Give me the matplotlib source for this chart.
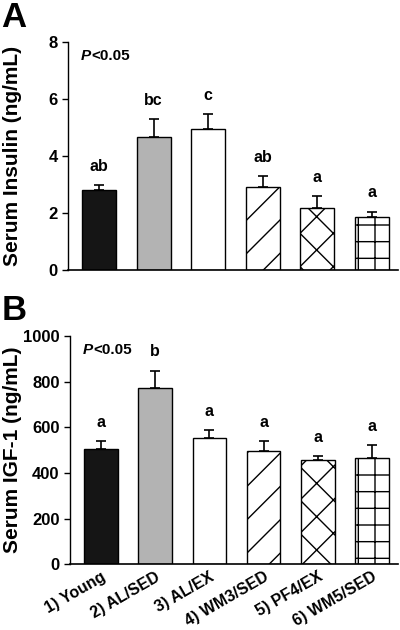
import numpy as np
import matplotlib.pyplot as plt

plt.rcParams['font.family'] = ['Liberation Sans', 'DejaVu Sans']
plt.rcParams['font.weight'] = 'bold'
plt.rcParams['hatch.linewidth'] = 1.0

groups = ['1) Young', '2) AL/SED', '3) AL/EX', '4) WM3/SED', '5) PF4/EX', '6) WM5/SED']
insulin = [2.82, 4.66, 4.96, 2.93, 2.20, 1.88]
insulin_se = [0.17, 0.65, 0.53, 0.38, 0.40, 0.18]
insulin_sig = ['ab', 'bc', 'c', 'ab', 'a', 'a']
igf1 = [504, 770, 553, 497, 456, 466]
igf1_se = [35, 78, 35, 44, 17, 57]
igf1_sig = ['a', 'b', 'a', 'a', 'a', 'a']

colors = ['#151515', '#b3b3b3', 'white', 'white', 'white', 'white']
hatches = [None, None, None, '/', 'x', '+']

fig = plt.figure(figsize=(4, 6.3), dpi=100)
ax1 = fig.add_axes([0.17, 0.571, 0.825, 0.362])
ax2 = fig.add_axes([0.175, 0.104, 0.82, 0.363])


def panel(ax, vals, errs, sig, ylim, yticks, ylabel, letter, xlabels, labx):
    x = np.arange(len(vals))
    ax.bar(x, vals, width=0.62, color=colors, edgecolor='black',
           linewidth=1.0, hatch=hatches, zorder=2)
    ax.errorbar(x, vals, yerr=[np.zeros(len(errs)), errs], fmt='none',
                ecolor='black', elinewidth=1.2, capsize=3.5, capthick=1.2, zorder=1)
    for xi, v, e, s in zip(x, vals, errs, sig):
        ax.annotate(s, (xi, v + e), xytext=(0, 8), textcoords='offset points',
                    ha='center', va='bottom', fontsize=11.5, fontweight='bold')
    ax.set_xlim(-0.57, 5.48)
    ax.set_ylim(*ylim)
    ax.set_yticks(yticks)
    ax.tick_params(axis='y', labelsize=12, length=4, width=1, direction='out')
    ax.tick_params(axis='x', length=0)
    for lab in ax.get_yticklabels():
        lab.set_fontweight('bold')
    ax.spines['top'].set_visible(False)
    ax.spines['right'].set_visible(False)
    ax.spines['left'].set_linewidth(1.0)
    ax.spines['bottom'].set_linewidth(1.2)
    ax.set_ylabel(ylabel, fontsize=15, fontweight='bold')
    ax.yaxis.set_label_coords(labx, 0.5)
    t = ax.text(0.04, 0.94, 'P', transform=ax.transAxes, fontsize=11,
                fontweight='bold', fontstyle='italic', va='center', ha='left')
    ax.annotate('<0.05', xy=(1, 0), xycoords=t, va='bottom', ha='left',
                fontsize=11, fontweight='bold')
    ax.set_xticks(x)
    if xlabels:
        ax.set_xticklabels(groups, rotation=30, ha='right', rotation_mode='anchor',
                           fontsize=11.5, fontweight='bold')
    else:
        ax.set_xticklabels([])
    fig.text(0.003, ax.get_position().y1 + 0.066, letter, fontsize=25,
             fontweight='bold', va='top', ha='left')


panel(ax1, insulin, insulin_se, insulin_sig, (0, 8), [0, 2, 4, 6, 8],
      'Serum Insulin (ng/mL)', 'A', False, -0.139)
panel(ax2, igf1, igf1_se, igf1_sig, (0, 1000), [0, 200, 400, 600, 800, 1000],
      'Serum IGF-1 (ng/mL)', 'B', True, -0.146)

fig.savefig('out.png', dpi=100)
